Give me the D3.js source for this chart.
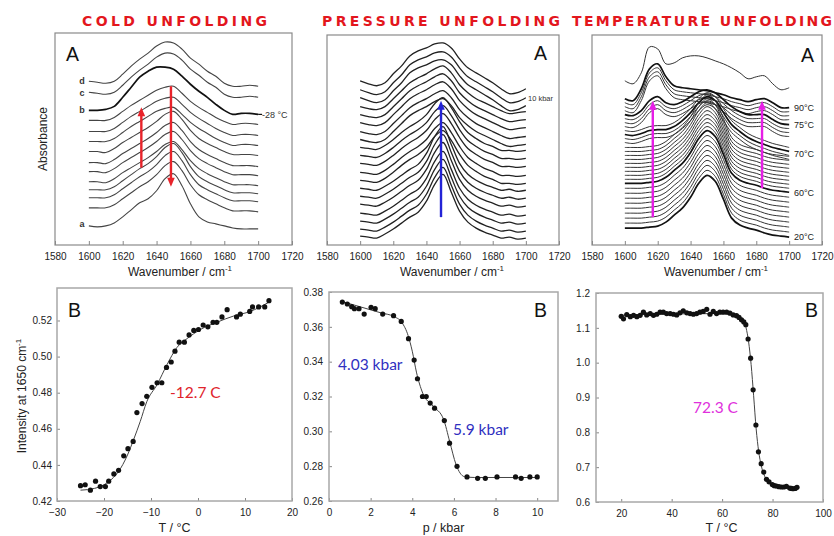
<!DOCTYPE html>
<html>
<head>
<meta charset="utf-8">
<script src="https://cdn.jsdelivr.net/npm/d3@7"></script>
<style>
  body { margin: 0; background: #fff; }
</style>
</head>
<body>
<svg id="chart" width="834" height="536"></svg>
<script>
// ---------- data ----------
// wavenumber grid of the FTIR spectra (cm-1)
const wavenumbers = [1600, 1605, 1610, 1615, 1620, 1625, 1630, 1635, 1640, 1645, 1650,
                     1655, 1660, 1665, 1670, 1675, 1680, 1685, 1690, 1695, 1700];
const wnTicks = [1580, 1600, 1620, 1640, 1660, 1680, 1700, 1720];

// cold unfolding: band shapes (absorbance above the 1600 cm-1 value, a.u.)
const coldD  = [0, -1, -2, 0, 7, 15, 22, 28, 35, 39, 38, 32, 23, 17, 10, 5, -2, -5, -5, -4, -5];
const coldB  = [0, 0, 1, 4, 13, 23, 33, 39, 43, 43, 41, 34, 26, 19, 13, 6, 0, -4, -3, -3, -4];
const coldM1 = [0, 0, 0, 3, 9, 15, 20, 25, 30, 33, 34, 27, 19, 13, 8, 3, -1, -4, -3, -3, -4];
const coldM2 = [0, 0, -1, 3, 9, 14, 19, 24, 30, 37, 40, 32, 21, 13, 8, 4, 0, -3, -3, -3, -4];
const coldM3 = [0, 0, 0, 3, 9, 15, 21, 26, 33, 42, 46, 37, 23, 13, 8, 4, 0, -3, -3, -3, -4];
const coldA  = [0, -1, 0, 3, 9, 16, 23, 27, 35, 47, 52, 40, 22, 9, 4, 2, 0, -2, -3, -3, -3];
const coldOffsets = [163, 152, 134, 124, 113, 103, 93, 82, 73, 63, 55, 47, 37, 19];
const coldShapeKey = ["D", "D", "B", "M1", "M1", "M1", "M2", "M2", "M2", "M2", "M3", "M3", "M3", "A"];
const coldBold = [2];

// pressure unfolding
const presP0 = [0, -3, -5, -2, 7, 15, 25, 30, 33, 37, 38, 33, 22, 13, 8, 3, -2, -8, -13, -12, -8];
const presP1 = [0, -2, -3, 0, 8, 16, 24, 29, 33, 38, 41, 34, 22, 14, 8, 4, 0, -4, -7, -6, -5];
const presP2 = [0, -1, -2, 2, 8, 15, 21, 26, 33, 44, 50, 40, 26, 15, 9, 4, 1, -3, -3, -4, -3];
const presP3 = [0, -1, -2, 2, 7, 13, 19, 24, 35, 52, 62, 44, 25, 14, 8, 4, 1, -2, -1, -3, -2];
const presOffsets = [165, 156, 148, 139, 131, 123, 114, 106, 98, 90, 82, 73, 65, 57, 49, 41, 32, 24, 16, 9];
const presShapeKey = ["P0", "P0", "P0", "P1", "P1", "P1", "P1", "P1",
                      "P2", "P2", "P2", "P2", "P2", "P3", "P3", "P3", "P3", "P3", "P3", "P3"];

// temperature unfolding
const tempT0  = [0, -3, 8, 34, 32, 17, 18, 23, 25, 25, 23, 20, 17, 13, 8, 2, 4, 5, -3, -9, -7];
const tempT1  = [0, -2, 10, 30, 35, 22, 13, 11, 10, 9, 8, 6, 4, 1, -1, -3, -1, 0, -4, -9, -9];
const tempT2b = [0, -1, 4, 14, 18, 12, 10, 13, 18, 23, 25, 22, 15, 8, 3, 0, 0, 0, -5, -9, -10];
const tempT2a = [0, -1, 1, 4, 5, 5, 8, 14, 22, 32, 38, 34, 22, 10, 3, -3, -7, -10, -13, -15, -17];
const tempT3  = [0, 0, 0, 1, 2, 6, 13, 20, 31, 45, 53, 47, 29, 10, 3, 0, -2, -5, -7, -8, -9];
const tempOffsets = [165,
  147, 143, 139, 135,
  131, 127, 123, 119,
  115, 111, 107, 103,
  98, 94, 90, 86, 82, 78, 74, 70, 66, 62, 57, 52, 47, 42, 37, 32, 27, 22, 17];
const tempShapeKey = ["T0",
  "T1", "T1", "T1", "T1",
  "T2b", "T2b", "T2b", "T2b",
  "T2a", "T2a", "T2a", "T2a",
  "T3", "T3", "T3", "T3", "T3", "T3", "T3", "T3", "T3", "T3", "T3", "T3", "T3", "T3", "T3", "T3", "T3", "T3", "T3"];
const tempBold = [1, 5, 10, 22, 31];
const tempLabels = ["90°C", "75°C", "70°C", "60°C", "20°C"];

// B panels: intensity at 1650 cm-1
const coldT = [-25.0, -24.0, -22.9, -21.8, -20.8, -19.7, -19.0, -17.9, -16.9, -15.8, -14.9, -13.8, -13.0,
  -11.9, -10.9, -9.8, -8.7, -7.7, -6.7, -5.7, -4.9, -4.0, -2.9, -1.9, -0.9, 0.1, 1.1, 2.1, 3.2, 4.0,
  5.1, 6.2, 8.2, 9.0, 11.0, 11.6, 12.9, 14.2, 15.1];
const coldI = [0.4285, 0.429, 0.426, 0.431, 0.428, 0.428, 0.431, 0.435, 0.437, 0.445, 0.449, 0.453, 0.469,
  0.474, 0.478, 0.483, 0.4855, 0.4855, 0.494, 0.497, 0.503, 0.508, 0.508, 0.512, 0.5145, 0.515, 0.5175,
  0.5165, 0.519, 0.519, 0.522, 0.526, 0.522, 0.5235, 0.525, 0.5275, 0.5275, 0.5275, 0.531];
const coldFitT = [-25, -22, -20, -18, -17, -15, -13.7, -12.3, -10.9, -8.7, -6.6, -4.5, -2.3, 0.5, 4, 7.6, 11.1, 15];
const coldFitI = [0.426, 0.427, 0.429, 0.433, 0.436, 0.4455, 0.454, 0.464, 0.475, 0.4845, 0.4955, 0.505,
  0.510, 0.515, 0.519, 0.5225, 0.525, 0.530];

const presP = [0.64, 0.88, 1.09, 1.22, 1.44, 1.69, 2.02, 2.22, 2.58, 3.10, 3.47, 3.82, 4.09, 4.25, 4.49,
  4.67, 4.86, 5.07, 5.54, 5.79, 6.15, 6.63, 7.14, 7.51, 8.07, 8.96, 9.23, 9.65, 10.0];
const presI = [0.3742, 0.3731, 0.3716, 0.3704, 0.3704, 0.3673, 0.3712, 0.3704, 0.3673, 0.3664, 0.3631,
  0.3532, 0.3409, 0.3302, 0.3200, 0.3200, 0.3162, 0.3133, 0.3062, 0.2932, 0.2799, 0.2738, 0.2730,
  0.2730, 0.2738, 0.2738, 0.2730, 0.2738, 0.2738];
const presFitP = [0.64, 1.5, 2.5, 3.1, 3.5, 3.8, 4.0, 4.2, 4.5, 5.0, 5.5, 5.8, 6.1, 6.5, 7.0, 10.0];
const presFitI = [0.3745, 0.3715, 0.368, 0.366, 0.3625, 0.355, 0.346, 0.334, 0.322, 0.3145, 0.307, 0.294,
  0.281, 0.274, 0.2735, 0.2735];

const tempT = [20, 20.9, 22.2, 23.6, 24.9, 26.2, 27.5, 28.8, 30.1, 31.5, 32.8, 34.1, 35.4, 36.7, 38.0,
  39.4, 40.7, 42.0, 43.3, 44.6, 46.0, 47.3, 48.6, 49.9, 51.2, 52.5, 53.9, 55.2, 56.5, 57.8, 59.1, 60.4,
  61.8, 63.1, 64.4, 65.7, 66.7, 67.7, 68.6, 69.4, 70.3, 71.3, 72.3, 73.4, 74.4, 75.5, 76.5, 77.6, 78.6,
  79.9, 80.7, 81.5, 82.5, 83.5, 84.5, 85.5, 86.8, 87.5, 88.1, 89.0, 89.7];
const tempI = [1.133, 1.126, 1.138, 1.132, 1.136, 1.132, 1.136, 1.145, 1.137, 1.141, 1.136, 1.139, 1.145,
  1.145, 1.141, 1.141, 1.139, 1.137, 1.143, 1.149, 1.143, 1.141, 1.139, 1.141, 1.145, 1.147, 1.153,
  1.139, 1.147, 1.141, 1.145, 1.145, 1.145, 1.142, 1.137, 1.135, 1.130, 1.123, 1.117, 1.109, 1.068,
  1.013, 0.922, 0.821, 0.744, 0.710, 0.686, 0.665, 0.658, 0.650, 0.647, 0.646, 0.644, 0.643, 0.643,
  0.645, 0.640, 0.639, 0.638, 0.639, 0.642];
const tempFitT = [20, 40, 60, 65, 67, 68.5, 69.5, 70.5, 71.5, 72.5, 73.5, 74.5, 75.5, 77, 79, 82, 86, 90];
const tempFitI = [1.136, 1.140, 1.141, 1.139, 1.132, 1.120, 1.100, 1.060, 0.995, 0.905, 0.810, 0.745,
  0.705, 0.672, 0.652, 0.643, 0.640, 0.640];

// ---------- drawing ----------
const svg = d3.select("#chart");
const font = "'Liberation Sans', Arial, Helvetica, sans-serif";
const red = "#e3161d";

function styleAxis(a) {
  a.select(".domain").remove();
  a.selectAll("line").attr("stroke", "#888");
  a.selectAll("text").attr("fill", "#222");
  a.attr("font-size", 10).attr("font-family", font);
}

function frame(g, x, y, color, w) {
  const [x0, x1] = x.range(), [y1, y0] = y.range();
  g.append("rect").attr("x", x0).attr("y", y0).attr("width", x1 - x0).attr("height", y1 - y0)
    .attr("fill", "none").attr("stroke", color).attr("stroke-width", w);
}

function arrow(g, x, y, a, color) {
  const px = x(a.wn), y0 = y(a.from), y1 = y(a.to);
  const dir = y1 < y0 ? -1 : 1;
  g.append("line").attr("x1", px).attr("x2", px).attr("y1", y0).attr("y2", y1 - dir * 6)
    .attr("stroke", color).attr("stroke-width", 2.4);
  g.append("path")
    .attr("d", `M${px},${y1} L${px - 3.8},${y1 - dir * 9} L${px + 3.8},${y1 - dir * 9} Z`)
    .attr("fill", color);
}

function spectraPanel(p) {
  const g = svg.append("g");
  const x = d3.scaleLinear().domain([1580, 1720]).range([p.left, p.right]);
  const y = d3.scaleLinear().domain([0, 211]).range([245, p.top]);
  g.append("g").attr("transform", "translate(0,245)")
    .call(d3.axisBottom(x).tickValues(wnTicks).tickSize(-4).tickPadding(8).tickFormat(d3.format("d")))
    .call(styleAxis);
  frame(g, x, y, "#8a8a8a", 1.2);
  const line = d3.line().x((d, i) => x(wavenumbers[i])).y(d => y(d)).curve(d3.curveCatmullRom);
  g.selectAll("path.spec").data(p.curves).join("path")
    .attr("class", "spec")
    .attr("fill", "none")
    .attr("stroke", c => c.bold ? "#111" : p.color)
    .attr("stroke-width", c => c.bold ? 1.7 : p.width)
    .attr("d", c => line(c.shape.map(v => v + c.offset)));
  g.append("text").attr("x", p.letterX).attr("y", p.letterY).text("A")
    .attr("font-family", font).attr("font-size", 19.5).attr("fill", "#111");
  g.append("text").attr("x", p.titleX).attr("y", 26).text(p.title)
    .attr("font-family", "'DejaVu Sans', sans-serif").attr("font-weight", "bold")
    .attr("font-size", 14).attr("fill", red)
    .attr("textLength", p.titleW).attr("lengthAdjust", "spacing");
  const xl = g.append("text").attr("x", p.axisTitleX).attr("y", 276).attr("text-anchor", "middle")
    .attr("font-family", font).attr("font-size", 12).attr("fill", "#222");
  xl.append("tspan").text("Wavenumber / cm");
  xl.append("tspan").text("-1").attr("font-size", 8).attr("dy", -5);
  return { g, x, y };
}

function transitionPanel(p) {
  const g = svg.append("g");
  const x = d3.scaleLinear().domain(p.xDomain).range([p.left, p.right]);
  const y = d3.scaleLinear().domain(p.yDomain).range([p.bottom, p.top]);
  g.append("g").attr("transform", `translate(0,${p.bottom})`)
    .call(d3.axisBottom(x).tickValues(p.xTicks).tickSize(-3).tickPadding(8).tickFormat(d3.format("d")))
    .call(styleAxis);
  g.append("g").attr("transform", `translate(${p.left},0)`)
    .call(d3.axisLeft(y).tickValues(p.yTicks).tickSize(-3).tickPadding(p.yPad).tickFormat(d3.format(p.yFormat)))
    .call(styleAxis);
  frame(g, x, y, "#a8a8a8", 1.5);
  const line = d3.line().x((d, i) => x(p.fitX[i])).y(d => y(d)).curve(d3.curveMonotoneX);
  g.append("path").attr("d", line(p.fitY)).attr("fill", "none")
    .attr("stroke", "#444").attr("stroke-width", 1);
  g.selectAll("circle").data(p.xs).join("circle")
    .attr("cx", d => x(d)).attr("cy", (d, i) => y(p.ys[i])).attr("r", 2.6).attr("fill", "#111");
  g.append("text").attr("x", p.letterX).attr("y", 317).text("B")
    .attr("font-family", font).attr("font-size", 19.5).attr("fill", "#111");
  g.append("text").attr("x", (p.left + p.right) / 2 + p.xTitleShift).attr("y", 532)
    .attr("text-anchor", "middle").attr("font-family", font).attr("font-size", 12.5)
    .attr("fill", "#222").text(p.xTitle);
  p.notes.forEach(n => g.append("text").attr("x", n.x).attr("y", n.y).text(n.text)
    .attr("font-family", "Lato, 'Open Sans', sans-serif").attr("font-size", 15.5).attr("fill", n.color));
  return { g, x, y };
}

// ----- A: cold unfolding spectra -----
const coldShapes = { D: coldD, B: coldB, M1: coldM1, M2: coldM2, M3: coldM3, A: coldA };
const cold = spectraPanel({
  left: 55, right: 292, top: 33, color: "#444", width: 1.1,
  curves: coldOffsets.map((o, i) => ({ offset: o, shape: coldShapes[coldShapeKey[i]], bold: coldBold.includes(i) })),
  letterX: 66, letterY: 61, title: "COLD UNFOLDING", titleX: 82, titleW: 185, axisTitleX: 180
});
[["d", 84], ["c", 96], ["b", 113], ["a", 227]].forEach(([t, yy]) =>
  cold.g.append("text").attr("x", 82).attr("y", yy).attr("text-anchor", "middle").text(t)
    .attr("font-family", font).attr("font-size", 9).attr("font-weight", "bold").attr("fill", "#333"));
cold.g.append("line").attr("x1", cold.x(1700)).attr("x2", cold.x(1700) + 4)
  .attr("y1", cold.y(130)).attr("y2", cold.y(130)).attr("stroke", "#111").attr("stroke-width", 1.2);
cold.g.append("text").attr("x", 262).attr("y", 118).text("-28 °C")
  .attr("font-family", font).attr("font-size", 9).attr("fill", "#333");
arrow(cold.g, cold.x, cold.y, { wn: 1631, from: 77, to: 137 }, "#e8232a");
arrow(cold.g, cold.x, cold.y, { wn: 1648.5, from: 158, to: 58 }, "#e8232a");

// ----- A: pressure unfolding spectra -----
const presShapes = { P0: presP0, P1: presP1, P2: presP2, P3: presP3 };
const pres = spectraPanel({
  left: 327, right: 559, top: 35, color: "#222", width: 1.3,
  curves: presOffsets.map((o, i) => ({ offset: o, shape: presShapes[presShapeKey[i]], bold: false })),
  letterX: 534, letterY: 60, title: "PRESSURE UNFOLDING", titleX: 322, titleW: 238, axisTitleX: 452
});
pres.g.append("text").attr("x", 528).attr("y", 101).text("10 kbar")
  .attr("font-family", font).attr("font-size", 7.5).attr("fill", "#333");
arrow(pres.g, pres.x, pres.y, { wn: 1648.8, from: 28, to: 145 }, "#2323d6");

// ----- A: temperature unfolding spectra -----
const tempShapes = { T0: tempT0, T1: tempT1, T2b: tempT2b, T2a: tempT2a, T3: tempT3 };
const temp = spectraPanel({
  left: 592, right: 822, top: 35, color: "#333", width: 1.0,
  curves: tempOffsets.map((o, i) => ({ offset: o, shape: tempShapes[tempShapeKey[i]], bold: tempBold.includes(i) })),
  letterX: 801, letterY: 62, title: "TEMPERATURE UNFOLDING", titleX: 572, titleW: 260, axisTitleX: 716
});
[111, 128, 157, 196, 240].forEach((yy, i) =>
  temp.g.append("text").attr("x", 794).attr("y", yy).text(tempLabels[i])
    .attr("font-family", font).attr("font-size", 9).attr("fill", "#222"));
arrow(temp.g, temp.x, temp.y, { wn: 1617, from: 28, to: 145 }, "#e61ee6");
arrow(temp.g, temp.x, temp.y, { wn: 1683.5, from: 57, to: 145 }, "#e61ee6");

// ----- B: transition curves -----
transitionPanel({
  left: 57, right: 292, top: 288, bottom: 501, xDomain: [-30, 20], yDomain: [0.42, 0.538],
  xTicks: [-30, -20, -10, 0, 10, 20], yTicks: [0.42, 0.44, 0.46, 0.48, 0.50, 0.52], yFormat: ".2f", yPad: 5,
  xs: coldT, ys: coldI, fitX: coldFitT, fitY: coldFitI, letterX: 68, xTitle: "T / °C", xTitleShift: 0,
  notes: [{ text: "-12.7 C", x: 170, y: 398, color: "#e0232b" }]
});
transitionPanel({
  left: 329, right: 558, top: 292, bottom: 501, xDomain: [0, 11], yDomain: [0.26, 0.38],
  xTicks: [0, 2, 4, 6, 8, 10], yTicks: [0.26, 0.28, 0.30, 0.32, 0.34, 0.36, 0.38], yFormat: ".2f", yPad: 6,
  xs: presP, ys: presI, fitX: presFitP, fitY: presFitI, letterX: 534, xTitle: "p / kbar", xTitleShift: 0,
  notes: [{ text: "4.03 kbar", x: 338, y: 370, color: "#2f2fbf" }, { text: "5.9 kbar", x: 453, y: 435, color: "#2f2fbf" }]
});
transitionPanel({
  left: 596, right: 823, top: 293, bottom: 502, xDomain: [10, 100], yDomain: [0.6, 1.2],
  xTicks: [20, 40, 60, 80, 100], yTicks: [0.6, 0.7, 0.8, 0.9, 1.0, 1.1, 1.2], yFormat: ".1f", yPad: 6,
  xs: tempT, ys: tempI, fitX: tempFitT, fitY: tempFitI, letterX: 805, xTitle: "T / °C", xTitleShift: 12,
  notes: [{ text: "72.3 C", x: 693, y: 413, color: "#e030dc" }]
});

// y-axis titles
svg.append("text").attr("transform", "translate(47,139) rotate(-90)").attr("text-anchor", "middle")
  .attr("font-family", font).attr("font-size", 12).attr("fill", "#222").text("Absorbance");
const yt = svg.append("text").attr("transform", "translate(26,396) rotate(-90)").attr("text-anchor", "middle")
  .attr("font-family", font).attr("font-size", 12).attr("fill", "#222");
yt.append("tspan").text("Intensity at 1650 cm");
yt.append("tspan").text("-1").attr("font-size", 8).attr("dy", -5);
</script>
</body>
</html>
